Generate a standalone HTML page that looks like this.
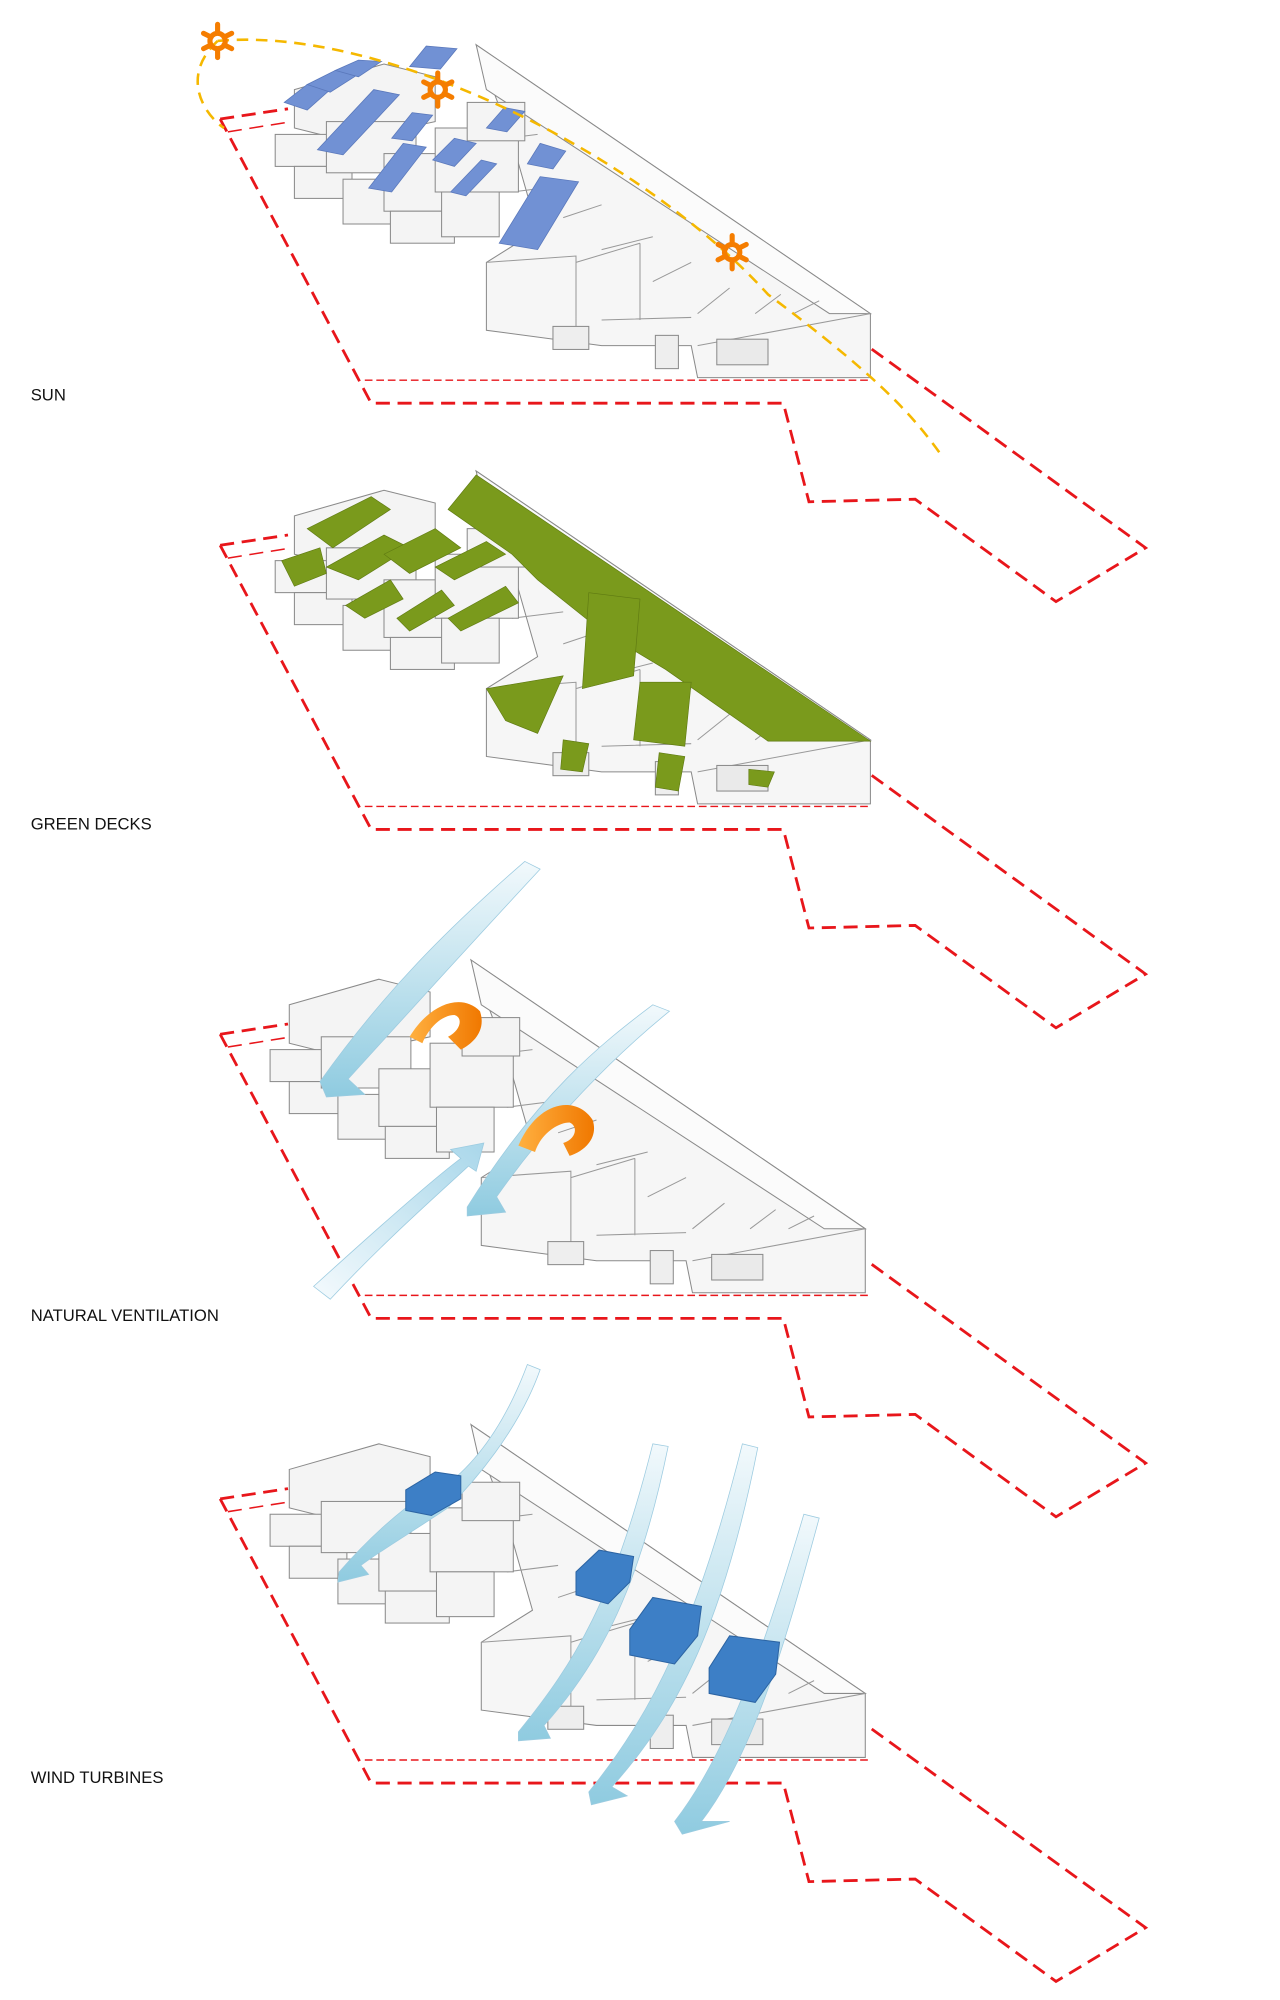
<!DOCTYPE html>
<html><head><meta charset="utf-8"><style>
html,body{margin:0;padding:0;background:#fff;width:1280px;height:2000px;overflow:hidden}
svg{display:block}
text{font-family:"Liberation Sans",sans-serif;font-size:13px;fill:#111}
</style></head><body>
<svg width="1280" height="2000" viewBox="0 0 1000 1562.5" xmlns="http://www.w3.org/2000/svg">
<defs>
<linearGradient id="wind" x1="0" y1="0" x2="0" y2="1">
<stop offset="0" stop-color="#f2f9fc"/><stop offset="1" stop-color="#8fcbe0"/></linearGradient>
<linearGradient id="wind2" x1="1" y1="0" x2="0" y2="1">
<stop offset="0" stop-color="#a9d7ea"/><stop offset="1" stop-color="#f4fafd"/></linearGradient>
<linearGradient id="orng" x1="0" y1="0" x2="1" y2="0">
<stop offset="0" stop-color="#ffb040"/><stop offset="1" stop-color="#f07800"/></linearGradient>
<g id="outline" fill="none" stroke="#e8161b" stroke-width="2.2" stroke-dasharray="11,6">
<path d="M172,93 L225,85"/>
<path d="M178,103 L228,95" stroke-width="1.2"/>
<path d="M172,93 L290,315 L612,315 L632,392 L715,390 L825,470 L895,428 L680,272"/>
<path d="M285,297 L680,297" stroke-width="1.1" stroke-dasharray="6,3"/>
</g>
<g id="mass" stroke="#8a8a8a" stroke-width="0.8" fill="#f6f6f6">
<path d="M372,35 L680,245 L680,295 L545,295 L540,270 L470,270 L380,258 L380,205 L420,180 L400,110 Z"/>
<path d="M372,35 L680,245 L648,245 L380,70 Z" fill="#fbfbfb"/>
<g fill="none" stroke="#999">
<path d="M380,110 L420,105 M400,150 L440,145 M440,170 L470,160 M470,195 L510,185 M510,220 L540,205 M545,245 L570,225 M590,245 L610,230 M620,245 L640,235"/>
<path d="M380,205 L450,200 L450,270 M450,205 L500,190 M500,190 L500,250 M470,250 L540,248 M545,270 L680,245"/>
</g>
<rect x="432" y="255" width="28" height="18" fill="#eee"/>
<rect x="512" y="262" width="18" height="26" fill="#eee"/>
<rect x="560" y="265" width="40" height="20" fill="#eaeaea"/>
<g fill="#f4f4f4">
<path d="M230,70 L300,50 L340,60 L340,95 L270,110 L230,100 Z"/>
<rect x="215" y="105" width="50" height="25"/>
<rect x="230" y="130" width="45" height="25"/>
<rect x="255" y="95" width="70" height="40"/>
<rect x="268" y="140" width="60" height="35"/>
<rect x="300" y="120" width="60" height="45"/>
<rect x="305" y="165" width="50" height="25"/>
<rect x="340" y="100" width="65" height="50"/>
<rect x="345" y="150" width="45" height="35"/>
<rect x="365" y="80" width="45" height="30"/>
</g>
</g>
</defs>

<!-- Panel 1: SUN -->
<use href="#outline"/>
<use href="#mass"/>
<g fill="#7191d4" stroke="#5a78bb" stroke-width="0.6">
<path d="M222,80 L240,66 L258,70 L240,86Z"/><path d="M240,66 L262,55 L280,58 L258,72Z"/>
<path d="M262,55 L280,47 L298,48 L280,60Z"/>
<path d="M320,52 L333,36 L357,38 L344,54Z"/>
<path d="M248,117 L292,70 L312,74 L268,121Z"/>
<path d="M288,147 L315,112 L333,115 L306,150Z"/>
<path d="M306,108 L322,88 L338,90 L322,110Z"/>
<path d="M338,125 L355,108 L372,112 L355,130Z"/>
<path d="M352,150 L376,125 L388,128 L364,153Z"/>
<path d="M380,100 L394,84 L410,87 L396,103Z"/>
<path d="M412,128 L422,112 L442,118 L432,132Z"/>
<path d="M390,190 L422,138 L452,142 L420,195Z"/>
</g>
<path d="M170,32 C140,60 160,90 175,100 M170,32 C300,20 500,120 600,230 C680,290 710,320 735,355" fill="none" stroke="#f5b800" stroke-width="2" stroke-dasharray="9,6"/>
<g stroke="#f57d00" stroke-width="4" fill="none" stroke-linecap="round">
<g transform="translate(170,32)"><circle r="6"/><path d="M0,-13V-7M0,7V13M-11,-6L-5,-3M5,3L11,6M-11,6L-5,3M5,-3L11,-6"/></g>
<g transform="translate(342,70)"><circle r="6"/><path d="M0,-13V-7M0,7V13M-11,-6L-5,-3M5,3L11,6M-11,6L-5,3M5,-3L11,-6"/></g>
<g transform="translate(572,197)"><circle r="6"/><path d="M0,-13V-7M0,7V13M-11,-6L-5,-3M5,3L11,6M-11,6L-5,3M5,-3L11,-6"/></g>
</g>
<text x="24" y="313">SUN</text>

<!-- Panel 2: GREEN -->
<g transform="translate(0,333)">
<use href="#outline"/>
<use href="#mass"/>
<g fill="#7a9a1c" stroke="#5f7a12" stroke-width="0.5">
<path d="M372,38 L680,246 L600,246 L520,190 L470,160 L420,120 L400,100 L350,65Z"/>
<path d="M240,80 L290,55 L305,65 L260,95Z"/>
<path d="M255,110 L300,85 L320,95 L280,120Z"/>
<path d="M300,100 L340,80 L360,95 L320,115Z"/>
<path d="M340,110 L380,90 L395,100 L355,120Z"/>
<path d="M220,105 L250,95 L255,115 L230,125Z"/>
<path d="M270,140 L305,120 L315,135 L285,150Z"/>
<path d="M310,150 L345,128 L355,140 L320,160Z"/>
<path d="M350,150 L395,125 L405,138 L360,160Z"/>
<path d="M380,205 L440,195 L420,240 L395,230Z"/>
<path d="M460,130 L500,135 L495,195 L455,205Z"/>
<path d="M500,200 L540,200 L535,250 L495,245Z"/>
<path d="M440,245 L460,248 L455,270 L438,268Z"/>
<path d="M515,255 L535,258 L530,285 L512,282Z"/>
<path d="M585,268 L605,270 L600,282 L585,280Z"/>
</g>
<text x="24" y="315">GREEN DECKS</text>
</g>

<!-- Panel 3: VENTILATION -->
<g transform="translate(0,715)">
<use href="#outline"/>
<use href="#mass" transform="translate(-4,0)"/>
<path d="M250,130 C300,60 350,10 410,-42 L422,-36 C370,20 320,75 272,128 L285,140 L255,142 Z" fill="url(#wind)" stroke="#9ccbe0" stroke-width="0.6"/>
<path d="M365,228 C420,140 470,100 510,70 L523,75 C480,110 430,160 388,220 L395,232 L365,235 Z" fill="url(#wind)" stroke="#9ccbe0" stroke-width="0.6"/>
<path d="M245,290 C300,240 340,205 360,190 L352,183 L378,178 L372,200 L366,196 C340,220 300,255 258,300 Z" fill="url(#wind2)" stroke="#9ccbe0" stroke-width="0.6"/>
<path d="M320,95 C335,70 360,60 375,75 C380,90 370,100 360,105 L350,95 C360,90 362,80 355,78 C345,78 335,88 330,100 Z" fill="url(#orng)"/>
<path d="M405,180 C420,145 450,140 463,160 C468,175 455,185 445,188 L440,178 C450,175 452,165 445,162 C435,162 422,172 418,185 Z" fill="url(#orng)"/>
<text x="24" y="317">NATURAL VENTILATION</text>
</g>

<!-- Panel 4: WIND TURBINES -->
<g transform="translate(0,1078)">
<use href="#outline"/>
<use href="#mass" transform="translate(-4,0)"/>
<g fill="url(#wind)" stroke="#9ccbe0" stroke-width="0.6">
<path d="M265,150 C300,110 340,80 345,85 C380,60 400,20 412,-12 L422,-8 C405,40 370,80 350,100 C320,120 295,135 282,145 L288,152 L264,158 Z"/>
<path d="M405,275 C450,220 480,170 510,50 L522,52 C500,160 470,220 425,270 L430,280 L405,282 Z"/>
<path d="M460,322 C510,260 545,190 580,50 L592,53 C565,190 530,260 478,318 L490,325 L462,332 Z"/>
<path d="M527,345 C570,290 600,200 628,105 L640,108 C615,200 590,290 548,345 L570,345 L533,355 Z"/>
</g>
<g fill="#3d7fc6" stroke="#2c64a3" stroke-width="0.8">
<path d="M317,86 L340,72 L360,75 L360,93 L337,106 L317,102Z"/>
<path d="M450,150 L468,133 L495,138 L492,158 L475,175 L450,168Z"/>
<path d="M492,195 L510,170 L548,177 L545,200 L527,222 L492,215Z"/>
<path d="M554,225 L570,200 L609,205 L606,230 L590,252 L554,245Z"/>
</g>
<text x="24" y="315">WIND TURBINES</text>
</g>
</svg>
</body></html>
